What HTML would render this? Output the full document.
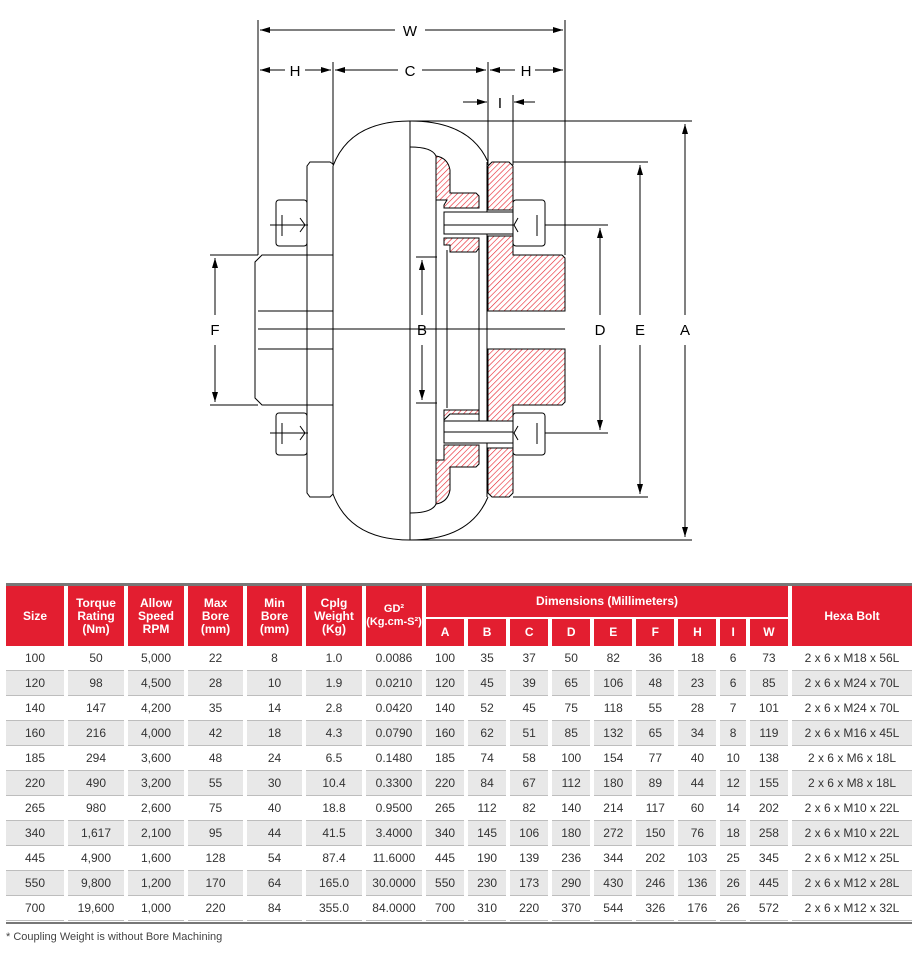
<!DOCTYPE html>
<html><head><meta charset="utf-8"><style>
body{margin:0;background:#fff;width:920px;height:960px;overflow:hidden;font-family:"Liberation Sans",Arial,sans-serif}
svg{position:absolute;left:0;top:0}
table{position:absolute;left:6px;top:586px;border-collapse:separate;border-spacing:4px 0;margin-left:-4px;width:914px}
td,th{padding:0;text-align:center;font-size:12px;color:#333}
th{background:#e31e30;color:#fff;font-size:12px;font-weight:bold;line-height:13px}
tbody td{height:24px;border-bottom:1px solid #bdbdbd}
tbody tr:nth-child(even) td{background:#e8e8e8}
.top{position:absolute;left:6px;top:583px;width:906px;height:3px;background:#777}
.bot{position:absolute;left:6px;top:922px;width:906px;height:2px;background:#777}
.note{position:absolute;left:6px;top:931px;font-size:11px;color:#444}
</style></head><body>
<svg width="920" height="580" viewBox="0 0 920 580">
<defs><pattern id="h" width="4" height="4" patternUnits="userSpaceOnUse" patternTransform="rotate(45)"><rect width="4" height="4" fill="#fff"/><line x1="0" y1="0" x2="0" y2="4" stroke="#e8202a" stroke-width="1.2"/></pattern>
<marker id="a" markerWidth="10" markerHeight="6" refX="10" refY="3" orient="auto"><path d="M0,0 L10,3 L0,6z" fill="#000"/></marker></defs>
<g fill="none" stroke="#000" stroke-width="1">
<line x1="258" y1="20" x2="258" y2="255"/><line x1="565" y1="20" x2="565" y2="255"/>
<line x1="333" y1="62" x2="333" y2="165"/><line x1="488" y1="62" x2="488" y2="165"/><line x1="513" y1="95" x2="513" y2="165"/>
<line x1="395" y1="30" x2="260" y2="30" marker-end="url(#a)"/><line x1="425" y1="30" x2="563" y2="30" marker-end="url(#a)"/>
<line x1="285" y1="70" x2="260" y2="70" marker-end="url(#a)"/><line x1="305" y1="70" x2="331" y2="70" marker-end="url(#a)"/>
<line x1="398" y1="70" x2="335" y2="70" marker-end="url(#a)"/><line x1="422" y1="70" x2="486" y2="70" marker-end="url(#a)"/>
<line x1="515" y1="70" x2="490" y2="70" marker-end="url(#a)"/><line x1="535" y1="70" x2="563" y2="70" marker-end="url(#a)"/>
<line x1="463" y1="102" x2="487" y2="102" marker-end="url(#a)"/><line x1="535" y1="102" x2="514" y2="102" marker-end="url(#a)"/>
<line x1="410" y1="121" x2="692" y2="121"/><line x1="410" y1="540" x2="692" y2="540"/>
<line x1="513" y1="162" x2="648" y2="162"/><line x1="513" y1="497" x2="648" y2="497"/>
<line x1="545" y1="225" x2="608" y2="225"/><line x1="545" y1="433" x2="608" y2="433"/>
<line x1="685" y1="315" x2="685" y2="124" marker-end="url(#a)"/><line x1="685" y1="345" x2="685" y2="537" marker-end="url(#a)"/>
<line x1="640" y1="315" x2="640" y2="165" marker-end="url(#a)"/><line x1="640" y1="345" x2="640" y2="494" marker-end="url(#a)"/>
<line x1="600" y1="315" x2="600" y2="228" marker-end="url(#a)"/><line x1="600" y1="345" x2="600" y2="430" marker-end="url(#a)"/>
<line x1="210" y1="255" x2="258" y2="255"/><line x1="210" y1="405" x2="258" y2="405"/>
<line x1="215" y1="315" x2="215" y2="258" marker-end="url(#a)"/><line x1="215" y1="345" x2="215" y2="402" marker-end="url(#a)"/>
<line x1="416" y1="257" x2="437" y2="257"/><line x1="416" y1="403" x2="437" y2="403"/>
<line x1="422" y1="315" x2="422" y2="260" marker-end="url(#a)"/><line x1="422" y1="345" x2="422" y2="400" marker-end="url(#a)"/>
<path d="M333,311 H258 M333,349 H258 M258,329 H565"/>
<path d="M333,255 H262 L255,262 V398 L262,405 H333"/>
<path d="M333,164 L330,162 H310 L307,166 V493 L310,497 H330 L333,494"/>
<rect x="276" y="200" width="31" height="46" rx="3"/><rect x="276" y="413" width="31" height="42" rx="3"/>
<path d="M270,225 H308 M270,433 H308 M282,215 V236 M282,423 V444 M300,218 L305,225 L300,232 M300,426 L305,433 L300,440"/>
<path d="M333,166 Q350,121 410,121 Q470,121 488,162 M333,494 Q350,540 410,540 Q470,540 488,497"/>
<line x1="410" y1="121" x2="410" y2="540"/><line x1="333" y1="166" x2="333" y2="494"/>
<path d="M410,147 Q432,147 436,156 V504 Q432,513 410,513"/>
<line x1="447" y1="250" x2="447" y2="408"/><line x1="479" y1="238" x2="479" y2="422"/><line x1="487" y1="162" x2="487" y2="497"/>
</g>
<g stroke="#000" stroke-width="1" fill="url(#h)">
<path d="M488,166 L492,162 H509 L513,166 V210 H488Z"/>
<path d="M488,236 H513 V255 H562 L565,258 V311 H488Z"/>
<path d="M488,349 H565 V402 L562,405 H513 V423 H488Z"/>
<path d="M488,448 H513 V493 L509,497 H492 L488,493Z"/>
<path d="M436,156 Q448,158 450,170 V193 H476 L479,196 V208 H444 V205 L447,200 H436Z" />
<path d="M444,238 H479 V248 L476,252 H450 V245 L444,245Z"/>
<path d="M444,410 H479 V414 H476 L450,414 L444,420Z"/>
<path d="M444,445 H479 V464 L476,467 H450 V490 Q448,502 436,504 V460 H444Z"/>
</g>
<g fill="#fff" stroke="#000" stroke-width="1">
<rect x="444" y="212" width="69" height="22"/><rect x="444" y="421" width="69" height="22"/>
<rect x="513" y="200" width="32" height="46" rx="3"/><rect x="513" y="413" width="32" height="42" rx="3"/>
</g>
<g fill="none" stroke="#000" stroke-width="1"><path d="M444,225 H513 M444,432 H513 M537,215 V236 M537,423 V444 M518,218 L514,225 L518,232 M518,426 L514,433 L518,440 M545,225 H560 M545,433 H560"/></g>
<g font-family="Liberation Sans,Arial" font-size="15" fill="#000" text-anchor="middle">
<text x="410" y="36">W</text><text x="295" y="76">H</text><text x="410" y="76">C</text><text x="526" y="76">H</text><text x="500" y="108">I</text>
<text x="685" y="335">A</text><text x="640" y="335">E</text><text x="600" y="335">D</text><text x="215" y="335">F</text><text x="422" y="335">B</text>
</g>
</svg>
<div class="top"></div>
<table>
<thead>
<tr style="height:33px"><th rowspan="2" style="width:58px">Size</th><th rowspan="2" style="width:56px">Torque<br>Rating<br>(Nm)</th><th rowspan="2" style="width:56px">Allow<br>Speed<br>RPM</th><th rowspan="2" style="width:55px">Max<br>Bore<br>(mm)</th><th rowspan="2" style="width:55px">Min<br>Bore<br>(mm)</th><th rowspan="2" style="width:56px">Cplg<br>Weight<br>(Kg)</th><th rowspan="2" style="width:56px;font-size:11px">GD²<br>(Kg.cm-S²)</th><th colspan="9" style="border-bottom:2px solid #fff">Dimensions (Millimeters)</th><th rowspan="2" style="width:120px">Hexa Bolt</th></tr>
<tr style="height:27px"><th>A</th><th>B</th><th>C</th><th>D</th><th>E</th><th>F</th><th>H</th><th>I</th><th>W</th></tr>
</thead>
<tbody>
<tr><td>100</td><td>50</td><td>5,000</td><td>22</td><td>8</td><td>1.0</td><td>0.0086</td><td>100</td><td>35</td><td>37</td><td>50</td><td>82</td><td>36</td><td>18</td><td>6</td><td>73</td><td>2 x 6 x M18 x 56L</td></tr>
<tr><td>120</td><td>98</td><td>4,500</td><td>28</td><td>10</td><td>1.9</td><td>0.0210</td><td>120</td><td>45</td><td>39</td><td>65</td><td>106</td><td>48</td><td>23</td><td>6</td><td>85</td><td>2 x 6 x M24 x 70L</td></tr>
<tr><td>140</td><td>147</td><td>4,200</td><td>35</td><td>14</td><td>2.8</td><td>0.0420</td><td>140</td><td>52</td><td>45</td><td>75</td><td>118</td><td>55</td><td>28</td><td>7</td><td>101</td><td>2 x 6 x M24 x 70L</td></tr>
<tr><td>160</td><td>216</td><td>4,000</td><td>42</td><td>18</td><td>4.3</td><td>0.0790</td><td>160</td><td>62</td><td>51</td><td>85</td><td>132</td><td>65</td><td>34</td><td>8</td><td>119</td><td>2 x 6 x M16 x 45L</td></tr>
<tr><td>185</td><td>294</td><td>3,600</td><td>48</td><td>24</td><td>6.5</td><td>0.1480</td><td>185</td><td>74</td><td>58</td><td>100</td><td>154</td><td>77</td><td>40</td><td>10</td><td>138</td><td>2 x 6 x M6 x 18L</td></tr>
<tr><td>220</td><td>490</td><td>3,200</td><td>55</td><td>30</td><td>10.4</td><td>0.3300</td><td>220</td><td>84</td><td>67</td><td>112</td><td>180</td><td>89</td><td>44</td><td>12</td><td>155</td><td>2 x 6 x M8 x 18L</td></tr>
<tr><td>265</td><td>980</td><td>2,600</td><td>75</td><td>40</td><td>18.8</td><td>0.9500</td><td>265</td><td>112</td><td>82</td><td>140</td><td>214</td><td>117</td><td>60</td><td>14</td><td>202</td><td>2 x 6 x M10 x 22L</td></tr>
<tr><td>340</td><td>1,617</td><td>2,100</td><td>95</td><td>44</td><td>41.5</td><td>3.4000</td><td>340</td><td>145</td><td>106</td><td>180</td><td>272</td><td>150</td><td>76</td><td>18</td><td>258</td><td>2 x 6 x M10 x 22L</td></tr>
<tr><td>445</td><td>4,900</td><td>1,600</td><td>128</td><td>54</td><td>87.4</td><td>11.6000</td><td>445</td><td>190</td><td>139</td><td>236</td><td>344</td><td>202</td><td>103</td><td>25</td><td>345</td><td>2 x 6 x M12 x 25L</td></tr>
<tr><td>550</td><td>9,800</td><td>1,200</td><td>170</td><td>64</td><td>165.0</td><td>30.0000</td><td>550</td><td>230</td><td>173</td><td>290</td><td>430</td><td>246</td><td>136</td><td>26</td><td>445</td><td>2 x 6 x M12 x 28L</td></tr>
<tr><td>700</td><td>19,600</td><td>1,000</td><td>220</td><td>84</td><td>355.0</td><td>84.0000</td><td>700</td><td>310</td><td>220</td><td>370</td><td>544</td><td>326</td><td>176</td><td>26</td><td>572</td><td>2 x 6 x M12 x 32L</td></tr>
</tbody></table>
<div class="bot"></div>
<div class="note">* Coupling Weight is without Bore Machining</div>
</body></html>
